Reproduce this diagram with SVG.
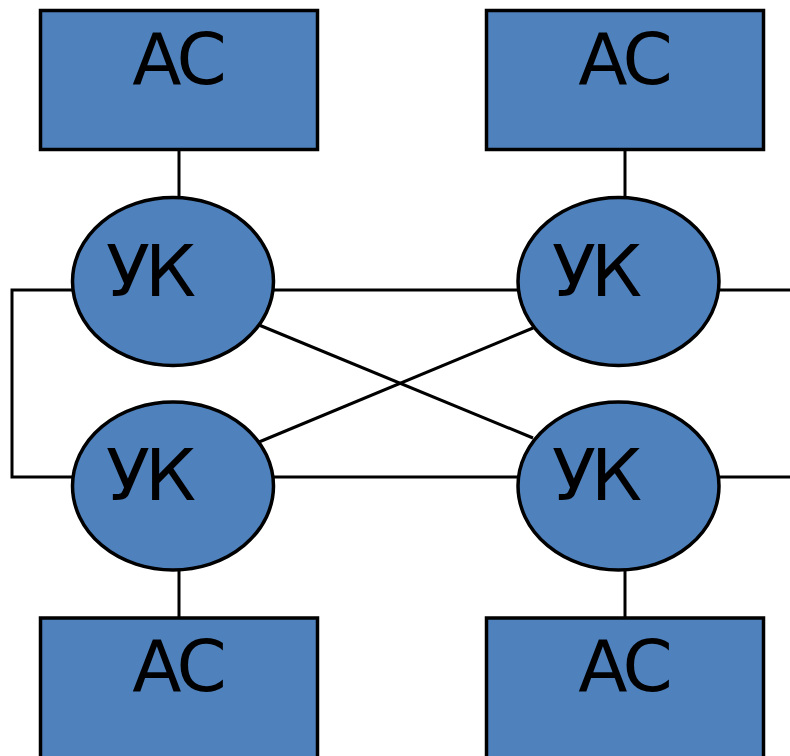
<svg xmlns="http://www.w3.org/2000/svg" width="790" height="756" viewBox="0 0 790 756">
  <style>
    .box { fill: #4F81BD; stroke: #000; stroke-width: 3.5; }
    .node { fill: #4F81BD; stroke: #000; stroke-width: 3.5; }
    .link { stroke: #000; stroke-width: 3; fill: none; }
    .lbl { font-family: "DejaVu Sans", Verdana, sans-serif; font-size: 72px; letter-spacing: -5px; fill: #000; }
  </style>
  <rect width="790" height="756" fill="#fff"/>
  <g id="connectors">
    <line class="link" x1="179" y1="150" x2="179" y2="198"/>
    <line class="link" x1="625" y1="150" x2="625" y2="198"/>
    <line class="link" x1="179" y1="569" x2="179" y2="618"/>
    <line class="link" x1="625" y1="569" x2="625" y2="618"/>
    <polyline class="link" points="73,290 12,290 12,477 73,477"/>
    <line class="link" x1="274" y1="290" x2="518" y2="290"/>
    <line class="link" x1="274" y1="477" x2="518" y2="477"/>
    <line class="link" x1="719" y1="290" x2="790" y2="290"/>
    <line class="link" x1="719" y1="477" x2="790" y2="477"/>
    <line class="link" x1="259" y1="325" x2="533" y2="438"/>
    <line class="link" x1="259" y1="442" x2="533" y2="328"/>
  </g>
  <g id="as-top-left">
    <rect class="box" x="40.5" y="10.5" width="277" height="139"/>
    <text class="lbl" x="177" y="84" text-anchor="middle">АС</text>
  </g>
  <g id="as-top-right">
    <rect class="box" x="486.5" y="10.5" width="277" height="139"/>
    <text class="lbl" x="623" y="84" text-anchor="middle">АС</text>
  </g>
  <g id="uk-top-left">
    <ellipse class="node" cx="173" cy="281.5" rx="100.5" ry="84"/>
    <text class="lbl" x="106" y="296">УК</text>
  </g>
  <g id="uk-top-right">
    <ellipse class="node" cx="618.5" cy="281.5" rx="100.5" ry="84"/>
    <text class="lbl" x="552" y="296">УК</text>
  </g>
  <g id="uk-bottom-left">
    <ellipse class="node" cx="173" cy="486" rx="100.5" ry="84"/>
    <text class="lbl" x="106" y="500">УК</text>
  </g>
  <g id="uk-bottom-right">
    <ellipse class="node" cx="618.5" cy="486" rx="100.5" ry="84"/>
    <text class="lbl" x="552" y="500">УК</text>
  </g>
  <g id="as-bottom-left">
    <rect class="box" x="40.5" y="618" width="277" height="145"/>
    <text class="lbl" x="177" y="691" text-anchor="middle">АС</text>
  </g>
  <g id="as-bottom-right">
    <rect class="box" x="486.5" y="618" width="277" height="145"/>
    <text class="lbl" x="623" y="691" text-anchor="middle">АС</text>
  </g>
</svg>
